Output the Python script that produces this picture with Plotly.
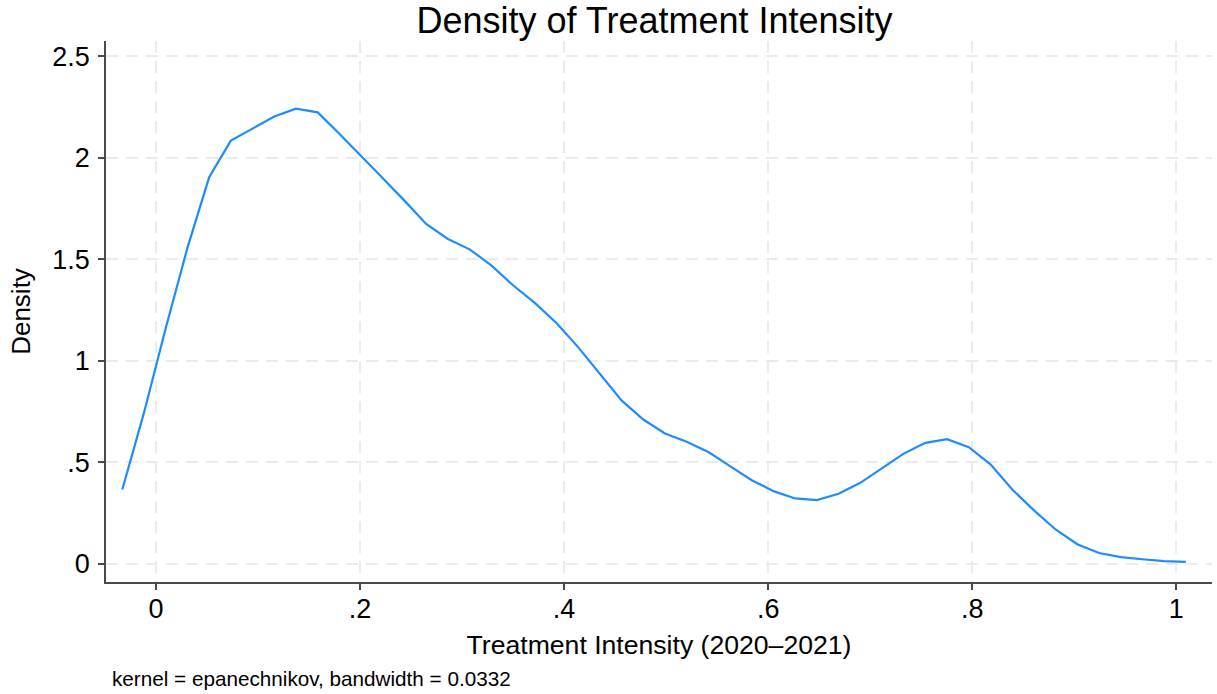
import plotly.graph_objects as go

# Evaluation grid (Treatment Intensity) and estimated kernel density
intensity = [-0.0330, -0.0117, 0.0095, 0.0308, 0.0521, 0.0734, 0.0946, 0.1159, 0.1372, 0.1585,
             0.1797, 0.2010, 0.2223, 0.2435, 0.2648, 0.2861, 0.3074, 0.3286, 0.3499, 0.3712,
             0.3925, 0.4137, 0.4350, 0.4563, 0.4776, 0.4988, 0.5201, 0.5414, 0.5626, 0.5839,
             0.6052, 0.6265, 0.6477, 0.6690, 0.6903, 0.7116, 0.7328, 0.7541, 0.7754, 0.7966,
             0.8179, 0.8392, 0.8605, 0.8817, 0.9030, 0.9243, 0.9456, 0.9668, 0.9881, 1.0094]
density = [0.365, 0.745, 1.160, 1.556, 1.904, 2.085, 2.144, 2.204, 2.242, 2.224,
           2.119, 2.011, 1.899, 1.789, 1.674, 1.600, 1.549, 1.470, 1.372, 1.285,
           1.186, 1.067, 0.935, 0.804, 0.710, 0.641, 0.600, 0.550, 0.480, 0.411,
           0.357, 0.321, 0.313, 0.344, 0.398, 0.472, 0.542, 0.595, 0.613, 0.574,
           0.489, 0.365, 0.262, 0.168, 0.095, 0.052, 0.032, 0.021, 0.012, 0.008]

x_tickvals = [0, 0.2, 0.4, 0.6, 0.8, 1]
x_ticktext = ["0", ".2", ".4", ".6", ".8", "1"]
y_tickvals = [0, 0.5, 1, 1.5, 2, 2.5]
y_ticktext = ["0", ".5", "1", "1.5", "2", "2.5"]

title_text = "Density of Treatment Intensity"
x_title = "Treatment Intensity (2020–2021)"
y_title = "Density"
note_text = "kernel = epanechnikov, bandwidth = 0.0332"

FONT = "Liberation Sans, Arial, sans-serif"

fig = go.Figure()
fig.add_trace(go.Scatter(x=intensity, y=density, mode="lines",
                         line=dict(color="#1E8CFF", width=2.2), showlegend=False,
                         hoverinfo="skip"))

axis_common = dict(
    showline=True, linecolor="#4a4a4a", linewidth=1.5,
    ticks="outside", ticklen=6, tickwidth=1.5, tickcolor="#4a4a4a",
    showgrid=True, gridcolor="#ebebeb", gridwidth=1.5, griddash="12px,8px",
    zeroline=False, tickfont=dict(family=FONT, size=27, color="black"),
    mirror=False, automargin=False,
)

fig.update_layout(
    width=1217, height=694,
    margin=dict(l=106, r=5, t=41, b=112),
    paper_bgcolor="white", plot_bgcolor="white",
    font=dict(family=FONT, color="black"),
    title=dict(text=title_text, font=dict(family=FONT, size=36, color="black"),
               x=654.5 / 1217, xanchor="center", y=0.989, yanchor="top", yref="container"),
    xaxis=dict(range=[-0.049, 1.035], tickvals=x_tickvals, ticktext=x_ticktext,
               ticklabelstandoff=-4,
               title=dict(text=x_title, font=dict(family=FONT, size=26.6, color="black"), standoff=12),
               **axis_common),
    yaxis=dict(range=[-0.091, 2.576], tickvals=y_tickvals, ticktext=y_ticktext,
               ticklabelstandoff=3,
               title=dict(text=y_title, font=dict(family=FONT, size=26, color="black"), standoff=14),
               **axis_common),
)

fig.add_annotation(text=note_text, xref="paper", yref="paper",
                   x=(110 - 106) / (1212 - 106), xanchor="left",
                   y=-(678 - 582) / (582 - 41), yanchor="middle",
                   showarrow=False, font=dict(family=FONT, size=20.7, color="black"))

fig.write_html("out.html",
               config={"displayModeBar": False},
               post_script="document.body.style.margin='0';"
                           "document.documentElement.style.overflow='hidden';"
                           "document.body.style.overflow='hidden';")
